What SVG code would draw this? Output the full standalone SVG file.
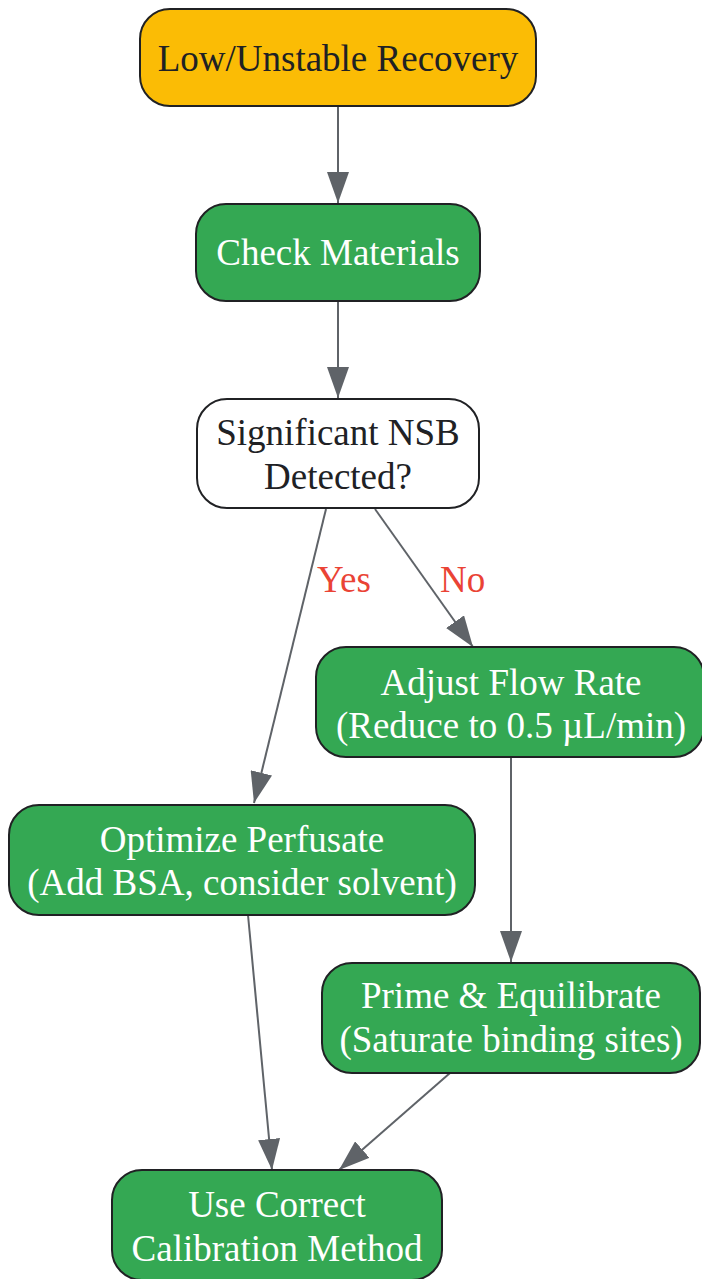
<svg xmlns="http://www.w3.org/2000/svg" width="702" height="1279" viewBox="0 0 702 1279">
<defs>
<style>
.box{stroke:#202124;stroke-width:2}
.start{fill:#FBBC05}
.step{fill:#34A853}
.dec{fill:#FFFFFF}
text{font-family:"Liberation Serif","Times New Roman",serif;font-size:37px;text-anchor:middle}
.dark{fill:#202124}
.light{fill:#FFFFFF}
.lbl{fill:#EA4335;text-anchor:start}
.edge{stroke:#5F6368;stroke-width:2;fill:none;marker-end:url(#arr)}
</style>
<marker id="arr" viewBox="0 0 31 22" refX="31" refY="11" markerWidth="31" markerHeight="22" orient="auto" markerUnits="userSpaceOnUse">
<path d="M0,0 L31,11 L0,22 Z" fill="#5F6368"/>
</marker>
</defs>
<rect width="702" height="1279" fill="#FFFFFF"/>
<g id="connectors">
<path class="edge" d="M338,106 L338,203"/>
<path class="edge" d="M338,301 L338,398"/>
<path class="edge" d="M326,509 L254,803"/>
<path class="edge" d="M375,509 L473,647"/>
<path class="edge" d="M511,757 L511,962"/>
<path class="edge" d="M248,915 L272,1170"/>
<path class="edge" d="M450,1073 L339,1170"/>
<text class="lbl" x="317" y="592">Yes</text>
<text class="lbl" x="440" y="592">No</text>
</g>
<g id="n1">
<rect class="box start" x="140" y="9" width="396" height="97" rx="30"/>
<text class="dark" x="338" y="71">Low/Unstable Recovery</text>
</g>
<g id="n2">
<rect class="box step" x="196" y="204" width="284" height="97" rx="30"/>
<text class="light" x="338" y="265">Check Materials</text>
</g>
<g id="n3">
<rect class="box dec" x="197" y="399" width="282" height="109" rx="30"/>
<text class="dark" x="338" y="445">Significant NSB</text>
<text class="dark" x="338" y="489">Detected?</text>
</g>
<g id="n4">
<rect class="box step" x="316" y="647" width="388" height="110" rx="30"/>
<text class="light" x="511" y="695">Adjust Flow Rate</text>
<text class="light" x="511" y="738">(Reduce to 0.5 µL/min)</text>
</g>
<g id="n5">
<rect class="box step" x="9" y="805" width="466" height="110" rx="30"/>
<text class="light" x="242" y="852">Optimize Perfusate</text>
<text class="light" x="242" y="895">(Add BSA, consider solvent)</text>
</g>
<g id="n6">
<rect class="box step" x="322" y="963" width="378" height="110" rx="30"/>
<text class="light" x="511" y="1008">Prime &amp; Equilibrate</text>
<text class="light" x="511" y="1052">(Saturate binding sites)</text>
</g>
<g id="n7">
<rect class="box step" x="112" y="1170" width="330" height="110" rx="30"/>
<text class="light" x="277" y="1217">Use Correct</text>
<text class="light" x="277" y="1261">Calibration Method</text>
</g>
</svg>
